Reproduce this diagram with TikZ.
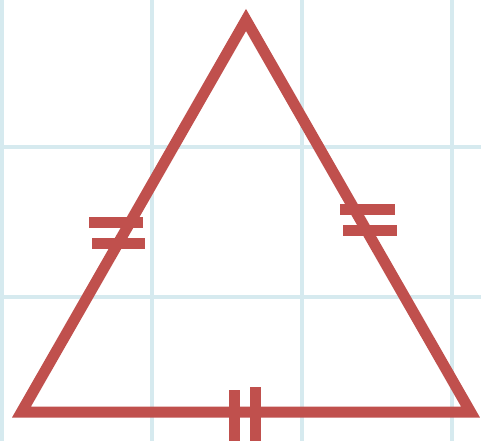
\documentclass[tikz,border=0pt]{standalone}
\usepackage{tikz}
\definecolor{trired}{RGB}{192,80,77}
\definecolor{gridblue}{RGB}{214,234,239}
\begin{document}
\begin{tikzpicture}[x=1pt,y=-1pt,
    side/.style={draw=trired,line width=11pt,line join=miter},
    hashmark/.style={draw=trired,line width=11pt},
    gridline/.style={draw=gridblue,line width=4.5pt}]
\useasboundingbox (0,0) rectangle (481,441);
\fill[white] (0,0) rectangle (481,441);
\foreach \x in {2,152,302,452} \draw[gridline] (\x,0) -- (\x,441);
\foreach \y in {147,297} \draw[gridline] (0,\y) -- (481,\y);
\coordinate (1) at (21.5,412);
\coordinate (2) at (470.5,412);
\coordinate (3) at (246,20);
\draw[side] (1) -- (2) -- (3) -- cycle;
% equal sides
\draw[hashmark] (89,222) -- (143,222);
\draw[hashmark] (92,243) -- (145,243);
\draw[hashmark] (340,209) -- (395,209);
\draw[hashmark] (343,230) -- (397,230);
\draw[hashmark] (234,390) -- (234,441);
\draw[hashmark] (255,387) -- (255,441);
\end{tikzpicture}
\end{document}
